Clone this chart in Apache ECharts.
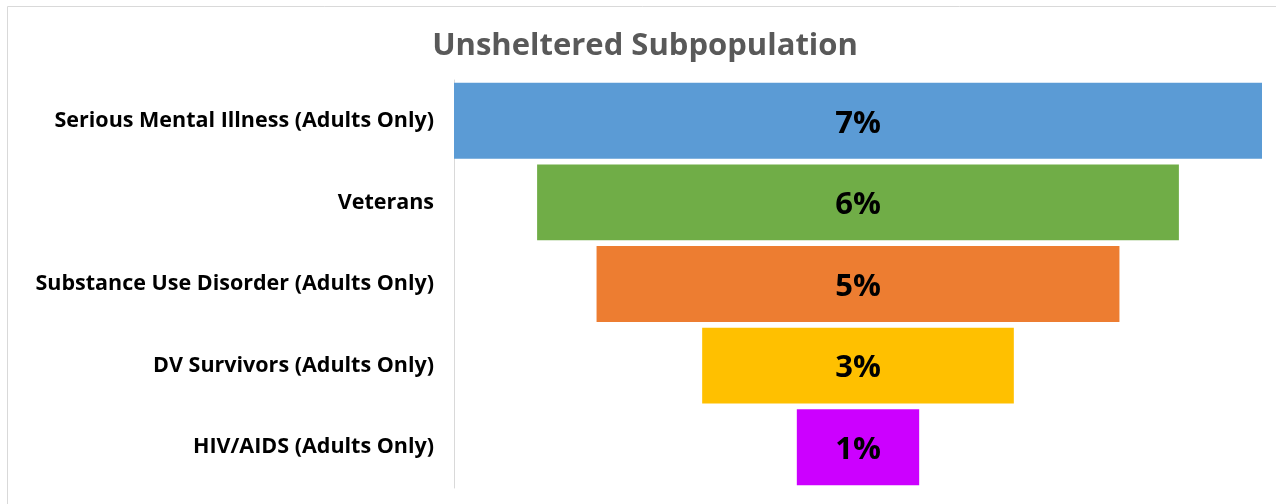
<!DOCTYPE html>
<html>
<head>
<meta charset="utf-8">
<script src="https://cdn.jsdelivr.net/npm/echarts@6/dist/echarts.min.js"></script>
<style>
  html, body { margin: 0; padding: 0; background: #fff; }
  #main { width: 1276px; height: 504px; }
</style>
</head>
<body>
<div id="main"></div>
<script>
// categories, top to bottom
const categories = [
    'Serious Mental Illness (Adults Only)',
    'Veterans',
    'Substance Use Disorder (Adults Only)',
    'DV Survivors (Adults Only)',
    'HIV/AIDS (Adults Only)'
]
// share in percent
const values = [7.0, 5.56, 4.53, 2.7, 1.06]
const labels = ['7%', '6%', '5%', '3%', '1%']
const colors = ['#5b9bd5', '#70ad47', '#ed7d31', '#ffc000', '#cc00ff']

const maxVal = Math.max(...values)
// invisible spacer so each bar is centred like a funnel
const spacer = values.map(v => (maxVal - v) / 2)

let chart = echarts.init(document.getElementById('main'))

const option = {
    animation: false,
    title: {
        text: 'Unsheltered Subpopulation',
        left: 640,
        top: 26,
        textAlign: 'center',
        textStyle: {
            fontFamily: 'Open Sans',
            fontSize: 31,
            fontWeight: 'bold',
            color: '#595959'
        }
    },
    graphic: [{
        type: 'rect',
        shape: { x: 7.5, y: 6.5, width: 1300, height: 600 },
        style: { fill: 'none', stroke: '#d9d9d9', lineWidth: 1 },
        silent: true
    }],
    grid: {
        left: 454,
        right: 14,
        top: 80,
        bottom: 16,
        containLabel: false
    },
    xAxis: {
        type: 'value',
        min: 0,
        max: maxVal,
        show: false
    },
    yAxis: {
        type: 'category',
        data: categories,
        inverse: true,
        axisLine: { show: true, lineStyle: { color: '#d9d9d9', width: 1 } },
        axisTick: { show: false },
        axisLabel: {
            margin: 20,
            fontFamily: 'Open Sans',
            fontSize: 21.5,
            fontWeight: 'bold',
            color: '#000'
        }
    },
    series: [
        {
            type: 'bar',
            stack: 'funnel',
            data: spacer,
            itemStyle: { color: 'transparent' },
            barCategoryGap: '7%',
            silent: true
        },
        {
            type: 'bar',
            stack: 'funnel',
            data: values.map((v, i) => ({
                value: v,
                itemStyle: { color: colors[i] }
            })),
            barCategoryGap: '7%',
            label: {
                show: true,
                position: 'inside',
                offset: [0, 3],
                formatter: p => labels[p.dataIndex],
                fontFamily: 'Open Sans',
                fontSize: 31,
                fontWeight: 'bold',
                color: '#000'
            }
        }
    ]
}

chart.setOption(option)
</script>
</body>
</html>
